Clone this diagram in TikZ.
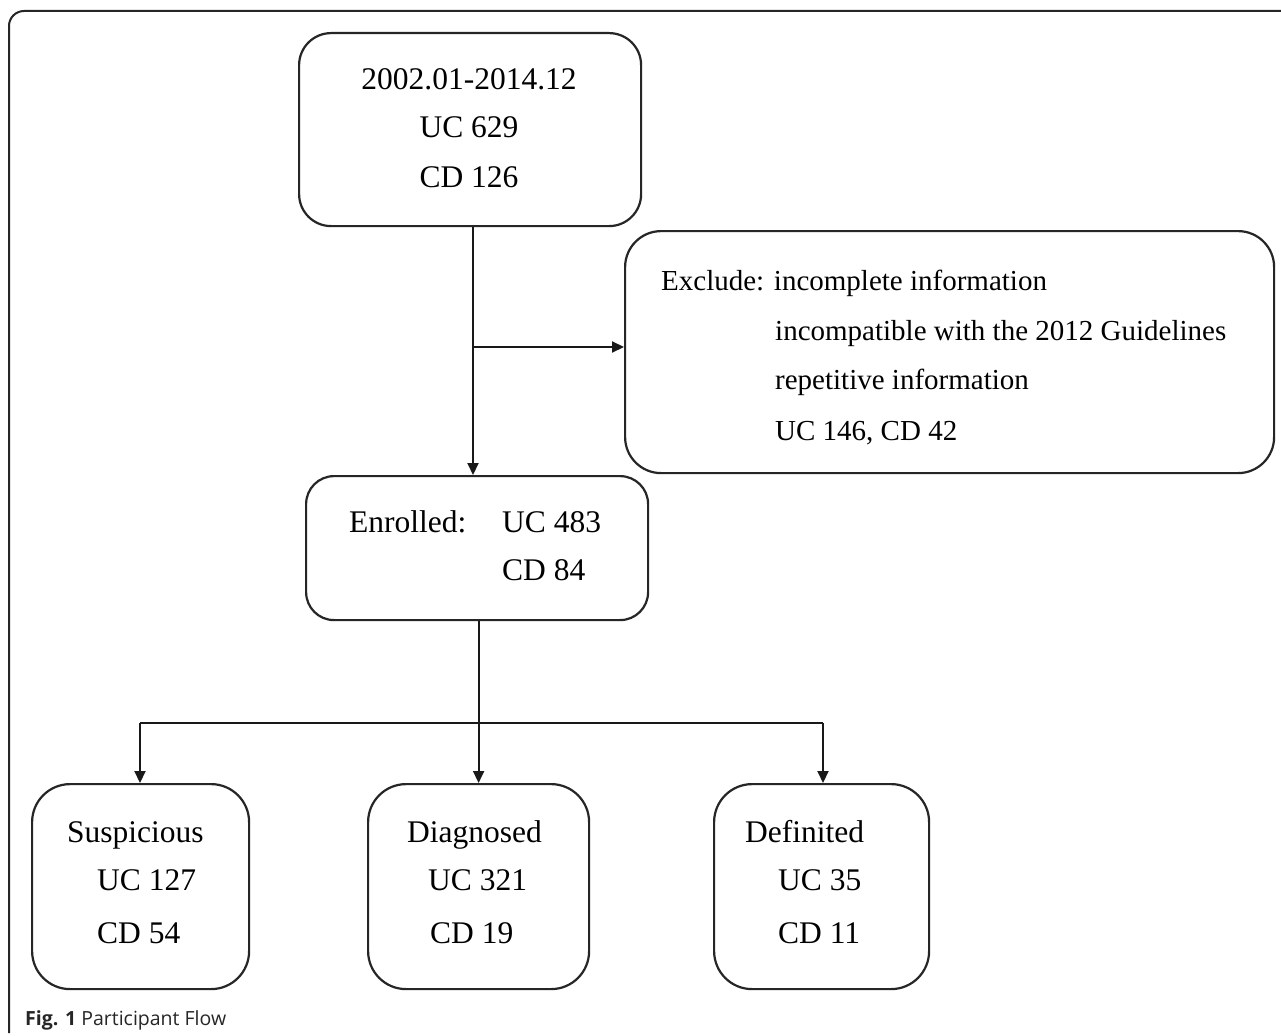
\documentclass[tikz,border=0pt]{standalone}
\usepackage{fontspec}
\setmainfont{Liberation Serif}
\newfontfamily\capfont{Open Sans}
\usetikzlibrary{arrows.meta}
\begin{document}
\begin{tikzpicture}[x=1pt,y=-1pt,
  box/.style={draw=black!85, line width=2.2pt, rounded corners=#1, inner sep=0pt, anchor=north west},
  txt/.style={font=\fontsize{31.5}{38}\selectfont, inner sep=0pt, anchor=base west},
  ctxt/.style={font=\fontsize{31.5}{38}\selectfont, inner sep=0pt, anchor=base},
  etxt/.style={font=\fontsize{29}{36}\selectfont, inner sep=0pt, anchor=base west},
  conn/.style={line width=2pt, draw=black!90},
  arr/.style={conn, -{Triangle[length=12pt,width=11pt]}}
]
\useasboundingbox (0,0) rectangle (1281,1035);
\fill[white] (0,0) rectangle (1281,1035);
% outer frame
\draw[line width=2pt, draw=black!85, rounded corners=15] (1281,11) -- (9,11) -- (9,1033);

% boxes
\node[box=32, minimum width=342, minimum height=193] (top) at (298,32) {};
\node[box=36, minimum width=649, minimum height=242] (excl) at (624,230) {};
\node[box=28, minimum width=342, minimum height=144] (enr) at (305,475) {};
\node[box=38, minimum width=217, minimum height=205] (susp) at (31,783) {};
\node[box=38, minimum width=221, minimum height=205] (diag) at (367,783) {};
\node[box=38, minimum width=215, minimum height=205] (defn) at (713,783) {};

% texts
\node[ctxt] (t1) at (469,90) {2002.01-2014.12};
\node[ctxt] (t2) at (469,138) {UC 629};
\node[ctxt] (t3) at (469,188) {CD 126};

\node[etxt] (e1) at (661,290) {Exclude: incomplete information};
\node[etxt] (e2) at (775,340) {incompatible with the 2012 Guidelines};
\node[etxt] (e3) at (775,389) {repetitive information};
\node[etxt] (e4) at (775,440) {UC 146, CD 42};

\node[txt] (n1) at (349,532) {Enrolled:};
\node[txt] (n2) at (502,532) {UC 483};
\node[txt] (n3) at (502,580) {CD 84};

\node[txt] (s1) at (67,842) {Suspicious};
\node[txt] (s2) at (97,890) {UC 127};
\node[txt] (s3) at (97,943) {CD 54};

\node[txt] (d1) at (407,842) {Diagnosed};
\node[txt] (d2) at (428,890) {UC 321};
\node[txt] (d3) at (430,943) {CD 19};

\node[txt] (f1) at (745,842) {Definited};
\node[txt] (f2) at (778,890) {UC 35};
\node[txt] (f3) at (778,943) {CD 11};

% connectors
\coordinate (v1) at (473,347);
\draw[arr] (top.south -| v1) -- (enr.north -| v1);
\draw[arr] (v1) -- (excl.west |- v1);

\coordinate (hl) at (140,723);
\coordinate (hr) at (823,723);
\draw[conn] (enr.south -| diag.north) -- (diag.north |- hl);
\draw[arr] (diag.north |- hl) -- (diag.north);
\draw[conn] (hl) -- (hr);
\draw[arr] (hl) -- (susp.north -| hl);
\draw[arr] (hr) -- (defn.north -| hr);

% caption
\node[inner sep=0pt, anchor=base west, font=\capfont\fontsize{19.5}{24}\selectfont, text=black!85] (cap) at (25,1025) {\textbf{Fig. 1} Participant Flow};
\end{tikzpicture}
\end{document}
